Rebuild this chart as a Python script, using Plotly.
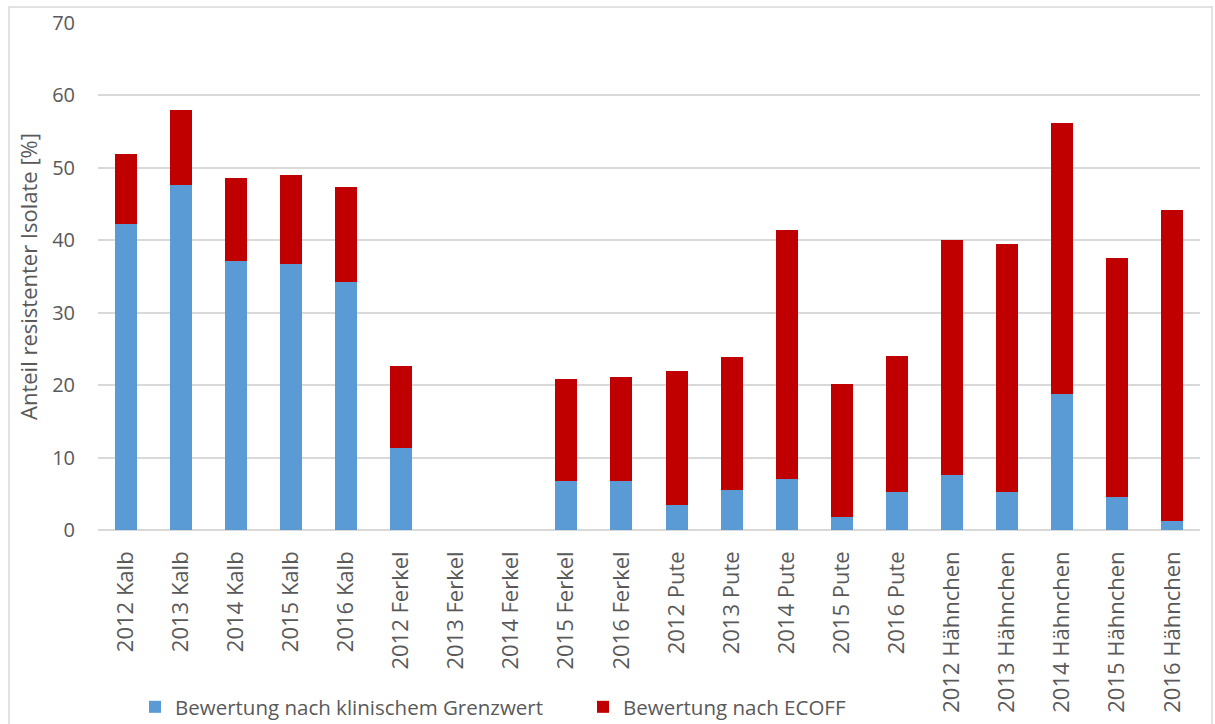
import plotly.graph_objects as go

categories = ["2012 Kalb", "2013 Kalb", "2014 Kalb", "2015 Kalb", "2016 Kalb",
              "2012 Ferkel", "2013 Ferkel", "2014 Ferkel", "2015 Ferkel", "2016 Ferkel",
              "2012 Pute", "2013 Pute", "2014 Pute", "2015 Pute", "2016 Pute",
              "2012 Hähnchen", "2013 Hähnchen", "2014 Hähnchen", "2015 Hähnchen", "2016 Hähnchen"]
klinisch = [42.2, 47.6, 37.1, 36.7, 34.2,
            11.3, None, None, 6.7, 6.8,
            3.5, 5.5, 7.0, 1.8, 5.2,
            7.6, 5.3, 18.8, 4.6, 1.3]
total = [51.9, 58.0, 48.6, 49.0, 47.4,
         22.7, None, None, 20.9, 21.1,
         22.0, 23.9, 41.4, 20.2, 24.0,
         40.0, 39.5, 56.2, 37.6, 44.2]
ecoff = [None if t is None else round(t - k, 2) for t, k in zip(total, klinisch)]

name_klin = "Bewertung nach klinischem Grenzwert"
name_ecoff = "Bewertung nach ECOFF"

font_family = "Open Sans, sans-serif"
grey_text = "#595959"

W, H = 1215, 724
L, R, T, B = 98, 15, 23, 194
PW, PH = W - L - R, H - T - B

fig = go.Figure()
fig.add_trace(go.Bar(x=categories, y=klinisch, name=name_klin,
                     marker=dict(color="#5b9bd5", line=dict(width=0))))
fig.add_trace(go.Bar(x=categories, y=ecoff, name=name_ecoff,
                     marker=dict(color="#c00000", line=dict(width=0))))

fig.update_layout(
    barmode="stack",
    bargap=0.6,
    width=W, height=H,
    paper_bgcolor="white", plot_bgcolor="white",
    margin=dict(l=L, r=R, t=T, b=B, autoexpand=False),
    font=dict(family=font_family, color=grey_text, size=20),
    showlegend=True,
    legend=dict(orientation="h", x=(135 - L) / PW, xanchor="left",
                y=(T + PH - 707) / PH, yanchor="middle", bgcolor="rgba(0,0,0,0)",
                font=dict(size=20.5, color=grey_text), traceorder="normal",
                itemwidth=30, entrywidth=403),
    xaxis=dict(tickangle=-90, showgrid=False, showline=False, ticks="", automargin=False,
               tickfont=dict(size=22, color=grey_text), categoryorder="array",
               categoryarray=categories, ticklabelstandoff=16),
    yaxis=dict(range=[0, 70], dtick=10, showgrid=True, gridcolor="#d9d9d9", gridwidth=1.5,
               zeroline=True, zerolinecolor="#d9d9d9", zerolinewidth=1.5, automargin=False,
               showline=False, ticks="", tickfont=dict(size=20, color=grey_text),
               ticklabelstandoff=22,
               title=dict(text="Anteil resistenter Isolate [%]", font=dict(size=22, color=grey_text),
                          standoff=8)),
    shapes=[dict(type="rect", xref="paper", yref="paper",
                 x0=(9 - L) / PW, x1=(1212 - L) / PW, y0=-(H - T - PH + 5) / PH, y1=(T + PH - 7) / PH,
                 line=dict(color="#d9d9d9", width=1.5), fillcolor="rgba(0,0,0,0)", layer="below")],
)

fig.write_html("out.html", config={"displayModeBar": False},
               post_script="document.body.style.margin='0';")
